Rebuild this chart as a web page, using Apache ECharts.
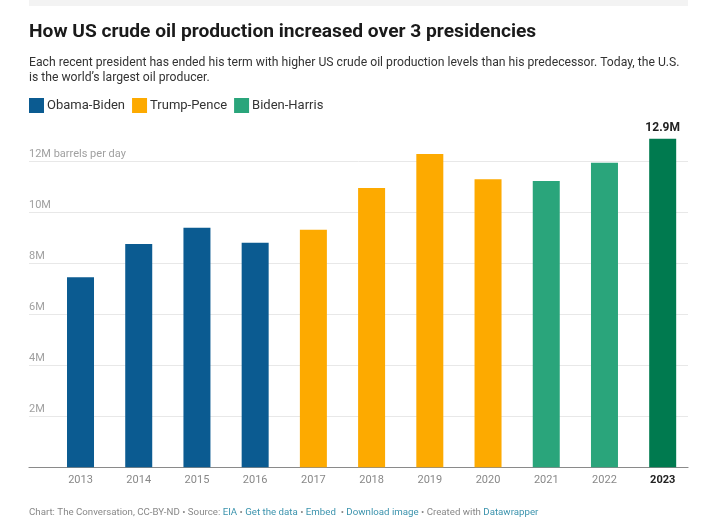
<!DOCTYPE html>
<html>
<head>
<meta charset="utf-8">
<script src="https://cdn.jsdelivr.net/npm/echarts@6/dist/echarts.min.js"></script>
<style>html,body{margin:0;padding:0;background:#fff;}#c{width:720px;height:532px;}</style>
</head>
<body>
<div id="c"></div>
<script>
var years = ['2013','2014','2015','2016','2017','2018','2019','2020','2021','2022','2023'];
var obamaBiden = [7.46, 8.77, 9.41, 8.82];
var trumpPence = [9.33, 10.97, 12.30, 11.31];
var bidenHarris = [11.24, 11.96, 12.90];
var yTicks = {12: '12M barrels per day', 10: '10M', 8: '8M', 6: '6M', 4: '4M', 2: '2M'};
var highlightYear = '2023';
var highlightLabel = '12.9M';

var colors = {obama: '#0b5b91', trump: '#fdaa00', biden: '#2aa57b', bidenDark: '#007a4f'};
var FONT = 'Roboto, "Noto Sans", sans-serif';

function place(vals, offset) {
  var out = years.map(function(){ return '-'; });
  vals.forEach(function(v, i){
    var idx = offset + i;
    if (years[idx] === highlightYear) {
      out[idx] = {value: v, itemStyle: {color: colors.bidenDark},
        label: {show: true, position: 'top', distance: 5, formatter: highlightLabel,
          fontFamily: FONT, fontWeight: 'bold', fontSize: 12, color: '#222'}};
    } else {
      out[idx] = v;
    }
  });
  return out;
}

var chart = echarts.init(document.getElementById('c'), null, {renderer: 'canvas'});
var gridTop = 136.2, gridBottom = 64.7;
var option = {
  backgroundColor: '#fff',
  animation: false,
  textStyle: {fontFamily: FONT},
  title: [
    {text: 'How US crude oil production increased over 3 presidencies', left: 29, top: 23, padding: 0,
      textStyle: {fontFamily: FONT, fontSize: 19.2, fontWeight: 'bold', color: '#1a1a1a'}},
    {text: 'Each recent president has ended his term with higher US crude oil production levels than his predecessor. Today, the U.S.\nis the world\u2019s largest oil producer.',
      left: 29, top: 55, padding: 0,
      textStyle: {fontFamily: FONT, fontSize: 12.2, fontWeight: 'normal', color: '#333', lineHeight: 15}}
  ],
  legend: {
    left: 29, top: 98, padding: 0, itemWidth: 15, itemHeight: 15, itemGap: 7, icon: 'rect',
    textStyle: {fontFamily: FONT, fontSize: 13, color: '#333', padding: [0,0,0,-2]},
    data: ['Obama-Biden', 'Trump-Pence', 'Biden-Harris']
  },
  graphic: [
    {type: 'rect', shape: {x: 29, y: 0, width: 659, height: 6}, style: {fill: '#f3f3f3'}, silent: true},
    {type: 'text', left: 29, top: 508, style: {
      text: '{g|Chart: The Conversation, CC-BY-ND \u2022 Source: }{l|EIA}{g| \u2022 }{l|Get the data}{g| \u2022 }{l|Embed}{g|  \u2022 }{l|Download image}{g| \u2022 Created with }{l|Datawrapper}',
      rich: {
        g: {fontFamily: FONT, fontSize: 9.7, fill: '#888'},
        l: {fontFamily: FONT, fontSize: 9.7, fill: '#3b93ad'}
      }
    }}
  ],
  grid: [
    {left: 29, right: 32, top: gridTop, bottom: gridBottom},
    {left: 51.4, right: 28.2, top: gridTop, bottom: gridBottom}
  ],
  xAxis: [
    {gridIndex: 0, type: 'value', min: 0, max: 1,
      axisLine: {show: true, onZero: false, lineStyle: {color: '#8a8a8a', width: 1.2}},
      axisTick: {show: false}, axisLabel: {show: false}, splitLine: {show: false}},
    {gridIndex: 1, type: 'category', data: years,
      axisLine: {show: false}, axisTick: {show: false},
      axisLabel: {margin: 7, fontFamily: FONT, fontSize: 11, color: '#888',
        formatter: function(v){ return v === highlightYear ? '{b|' + v + '}' : v; },
        rich: {b: {fontFamily: FONT, fontSize: 11, fontWeight: 'bold', color: '#222'}}}}
  ],
  yAxis: [
    {gridIndex: 0, type: 'value', min: 0, max: 13, interval: 2,
      axisLine: {show: false}, axisTick: {show: false},
      axisLabel: {inside: true, margin: 0, align: 'left', verticalAlign: 'bottom', padding: [0,0,2,0],
        fontFamily: FONT, fontSize: 11, color: '#a0a0a0',
        showMaxLabel: false, showMinLabel: false,
        formatter: function(v){ return yTicks[v] || ''; }},
      splitLine: {show: true, showMaxLine: false, showMinLine: false, lineStyle: {color: '#e8e8e8', width: 1}}},
    {gridIndex: 1, type: 'value', min: 0, max: 13, show: false, splitLine: {show: false}}
  ],
  series: [
    {name: 'Obama-Biden', type: 'bar', xAxisIndex: 1, yAxisIndex: 1, stack: 'p', barWidth: 27,
      itemStyle: {color: colors.obama}, data: place(obamaBiden, 0)},
    {name: 'Trump-Pence', type: 'bar', xAxisIndex: 1, yAxisIndex: 1, stack: 'p', barWidth: 27,
      itemStyle: {color: colors.trump}, data: place(trumpPence, obamaBiden.length)},
    {name: 'Biden-Harris', type: 'bar', xAxisIndex: 1, yAxisIndex: 1, stack: 'p', barWidth: 27,
      itemStyle: {color: colors.biden}, data: place(bidenHarris, obamaBiden.length + trumpPence.length)}
  ]
};
chart.setOption(option);
</script>
</body>
</html>
